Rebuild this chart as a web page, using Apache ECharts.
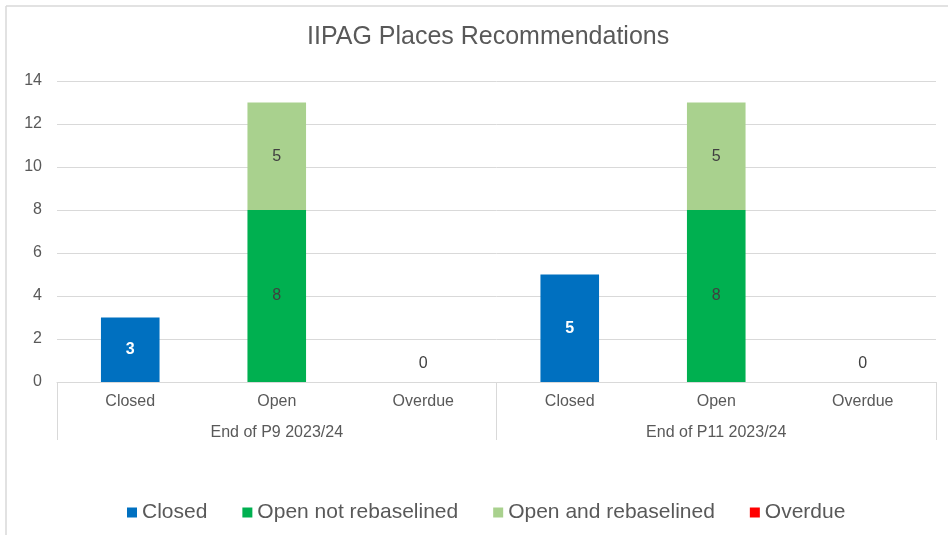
<!DOCTYPE html>
<html>
<head>
<meta charset="utf-8">
<title>IIPAG Places Recommendations</title>
<script src="https://cdn.jsdelivr.net/npm/echarts@6/dist/echarts.min.js"></script>
<style>
    html, body { margin: 0; padding: 0; background: #fff; }
    #chart { width: 948px; height: 535px; }
</style>
</head>
<body>
<div id="chart"></div>
<script>
// 分类与数据
var statusLabels = ['Closed', 'Open', 'Overdue', 'Closed', 'Open', 'Overdue'];
var periodLabels = ['End of P9 2023/24', 'End of P11 2023/24'];
var yTicks = [0, 14, 2];

var closedValues = [3, '-', '-', 5, '-', '-'];
var openNotRebaselined = ['-', 8, '-', '-', 8, '-'];
var openRebaselined = ['-', 5, '-', '-', 5, '-'];
var overdueValues = ['-', '-', 0, '-', '-', 0];

var textColor = '#595959';
var lineColor = '#d9d9d9';

$init();

function $init() {
    var myChart = echarts.init(document.getElementById('chart'));

    function barSeries(name, data, color, labelStyle) {
        return {
            name: name,
            type: 'bar',
            stack: 'total',
            xAxisIndex: 0,
            barWidth: '40%',
            data: data,
            itemStyle: {color: color},
            label: labelStyle
        };
    }

    var option = {
        backgroundColor: '#fff',
        textStyle: {fontFamily: 'Liberation Sans, Arial, sans-serif'},
        graphic: [
            //左、上边框
            {type: 'line', shape: {x1: 6, y1: 6, x2: 6, y2: 535}, style: {stroke: lineColor, lineWidth: 1.5}},
            {type: 'line', shape: {x1: 6, y1: 6, x2: 948, y2: 6}, style: {stroke: lineColor, lineWidth: 1.5}}
        ],
        title: {
            text: 'IIPAG Places Recommendations',
            left: 302,
            top: 20,
            textStyle: {color: textColor, fontSize: 25, fontWeight: 'normal', fontFamily: 'Liberation Sans, Arial, sans-serif'}
        },
        legend: {
            left: 122,
            top: 497,
            icon: 'rect',
            itemWidth: 10,
            itemHeight: 10,
            itemGap: 35,
            textStyle: {color: textColor, fontSize: 21},
            data: ['Closed', 'Open not rebaselined', 'Open and rebaselined', 'Overdue']
        },
        grid: {
            left: 57,
            right: 12,
            top: 81,
            bottom: 153,
            containLabel: false,
            outerBoundsMode: 'none'
        },
        xAxis: [
            {
                type: 'category',
                data: statusLabels,
                axisLine: {lineStyle: {color: lineColor}},
                axisTick: {show: false},
                axisLabel: {color: textColor, fontSize: 16, margin: 12}
            },
            {
                type: 'category',
                data: periodLabels,
                position: 'bottom',
                axisLine: {show: false},
                axisTick: {show: true, length: 58, lineStyle: {color: lineColor}},
                axisLabel: {color: textColor, fontSize: 16, margin: 43},
                splitLine: {show: false}
            }
        ],
        yAxis: {
            type: 'value',
            min: yTicks[0],
            max: yTicks[1],
            interval: yTicks[2],
            axisLine: {show: false},
            axisTick: {show: false},
            axisLabel: {color: textColor, fontSize: 16, margin: 15},
            splitLine: {lineStyle: {color: lineColor}}
        },
        series: [
            barSeries('Closed', closedValues, '#0070C0',
                {show: true, position: 'inside', color: '#fff', fontWeight: 'bold', fontSize: 16}),
            barSeries('Open not rebaselined', openNotRebaselined, '#00B050',
                {show: true, position: 'inside', color: '#404040', fontSize: 16}),
            barSeries('Open and rebaselined', openRebaselined, '#A9D18E',
                {show: true, position: 'inside', color: '#404040', fontSize: 16}),
            barSeries('Overdue', overdueValues, '#FF0000',
                {show: true, position: 'top', distance: 10, color: '#404040', fontSize: 16})
        ]
    };

    myChart.setOption(option);
}
</script>
</body>
</html>
